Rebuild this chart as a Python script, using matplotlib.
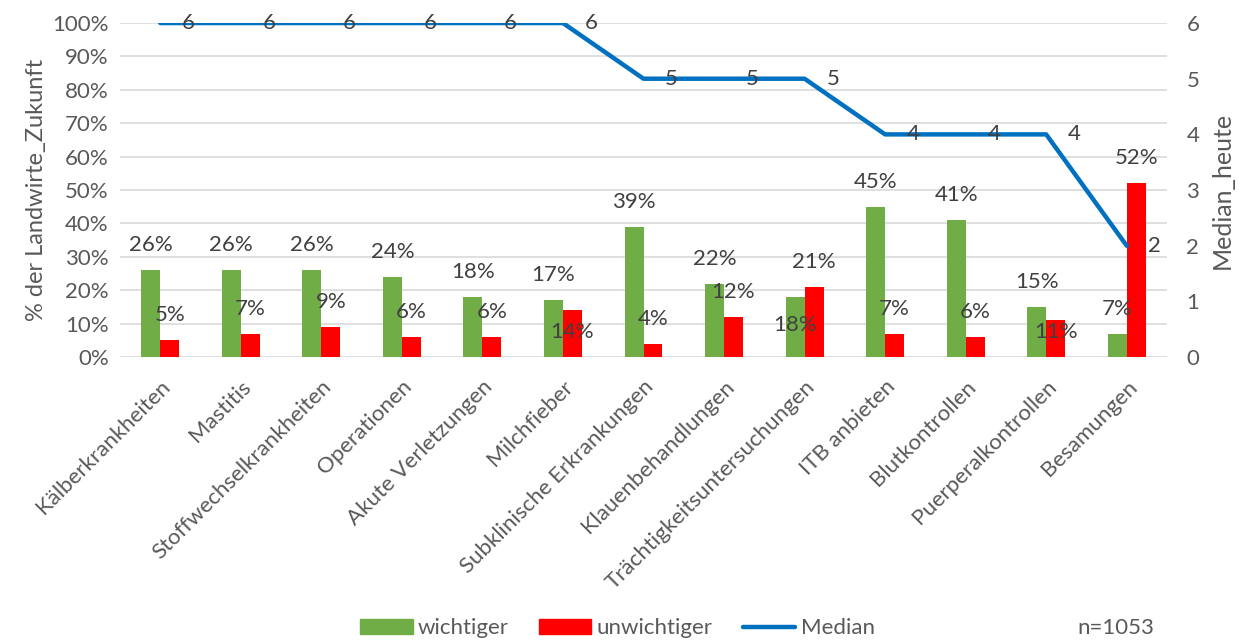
import numpy as np
import matplotlib.pyplot as plt
from matplotlib.patches import Patch
from matplotlib.lines import Line2D

plt.rcParams['font.family'] = ['Lato', 'DejaVu Sans']

categories = ["Kälberkrankheiten", "Mastitis", "Stoffwechselkrankheiten", "Operationen",
              "Akute Verletzungen", "Milchfieber", "Subklinische Erkrankungen",
              "Klauenbehandlungen", "Trächtigkeitsuntersuchungen", "ITB anbieten",
              "Blutkontrollen", "Puerperalkontrollen", "Besamungen"]
wichtiger = [26, 26, 26, 24, 18, 17, 39, 22, 18, 45, 41, 15, 7]
unwichtiger = [5, 7, 9, 6, 6, 14, 4, 12, 21, 7, 6, 11, 52]
median = [6, 6, 6, 6, 6, 6, 5, 5, 5, 4, 4, 4, 2]

# label offsets in percentage points (Excel placed some of them oddly)
green_off = [7.5] * 13
green_off[8] = -8.4
red_off = [7.5] * 13
red_off[5] = -6.5
red_off[11] = -3.5

GREEN = "#70AD47"
RED = "#FF0000"
BLUE = "#0070C0"
TXT = "#595959"
LBL = "#404040"
FS = 16

fig = plt.figure(figsize=(12.5, 6.4), dpi=100)
ax = fig.add_axes([0.096, 0.442, 0.8376, 0.522])
x = np.arange(len(categories))
w = 0.235

ax.bar(x - w / 2, wichtiger, w, color=GREEN, zorder=2)
ax.bar(x + w / 2, unwichtiger, w, color=RED, zorder=2)
for i in x:
    ax.text(i - w / 2, wichtiger[i] + green_off[i], f"{wichtiger[i]}%", ha="center",
            va="center", fontsize=FS, color=LBL, zorder=5)
    ax.text(i + w / 2, unwichtiger[i] + red_off[i], f"{unwichtiger[i]}%", ha="center",
            va="center", fontsize=FS, color=LBL, zorder=5)

ax.set_xlim(-0.5, len(categories) - 0.5)
ax.set_ylim(0, 100)
ax.set_yticks(np.arange(0, 101, 10))
ax.set_yticklabels([f"{v}%" for v in range(0, 101, 10)])
ax.yaxis.grid(True, color="#D9D9D9", lw=1.2, zorder=0)
ax.set_axisbelow(True)
for s in ax.spines.values():
    s.set_visible(False)
ax.tick_params(axis="both", length=0, labelsize=FS, colors=TXT, pad=8)
ax.set_xticks(x)
ax.set_xticklabels(categories, rotation=45, ha="right", rotation_mode="anchor")
ax.tick_params(axis="x", pad=14)
ax.set_ylabel("% der Landwirte_Zukunft", fontsize=17, color=TXT, labelpad=4)

ax2 = ax.twinx()
ax2.plot(x, median, color=BLUE, lw=3.2, solid_capstyle="round", solid_joinstyle="round", zorder=4)
for i in x:
    ax2.text(i + 0.35, median[i], str(median[i]), ha="center", va="center",
             fontsize=FS, color=LBL, zorder=5)
ax2.set_ylim(0, 6)
ax2.set_yticks(range(7))
for s in ax2.spines.values():
    s.set_visible(False)
ax2.tick_params(axis="y", length=0, labelsize=FS, colors=TXT, pad=14)
ax2.set_ylabel("Median_heute", fontsize=18, color=TXT, labelpad=8)

handles = [Patch(color=GREEN, label="wichtiger"), Patch(color=RED, label="unwichtiger"),
           Line2D([0], [0], color=BLUE, lw=3.2, solid_capstyle="round", label="Median")]
leg = fig.legend(handles=handles, loc="center", bbox_to_anchor=(0.494, 0.018), ncol=3,
                 frameon=False, fontsize=16, handlelength=2.35, handleheight=0.65,
                 columnspacing=1.35, handletextpad=0.25)
for t in leg.get_texts():
    t.set_color(TXT)
fig.text(0.893, 0.018, "n=1053", ha="center", va="center", fontsize=16, color=TXT)

fig.savefig("out.png", dpi=100)
